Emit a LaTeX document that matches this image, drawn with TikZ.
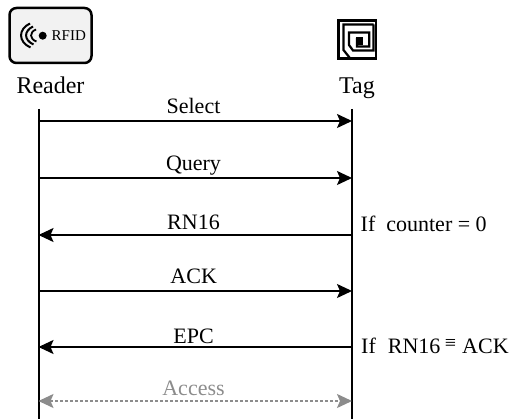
\documentclass[tikz,border=0pt]{standalone}
\usepackage{fontspec}
\setmainfont{Liberation Serif}
\usetikzlibrary{arrows.meta}
\definecolor{accgray}{gray}{0.55}
\tikzset{
  life/.style={line width=2pt},
  msg/.style={line width=1.7pt,-{Stealth[length=15pt,width=14pt,inset=3pt]}},
  acc/.style={line width=1.5pt,dash pattern=on 3pt off 2pt,color=accgray,{Stealth[length=15pt,width=14pt,inset=3pt]}-{Stealth[length=15pt,width=14pt,inset=3pt]}},
  lbl/.style={font=\fontsize{22}{24}\selectfont,inner sep=0pt,anchor=base},
  side/.style={font=\fontsize{22}{24}\selectfont,inner sep=0pt,anchor=base west},
  head/.style={font=\fontsize{24}{26}\selectfont,inner sep=0pt,anchor=base}
}
\begin{document}
\begin{tikzpicture}[x=1pt,y=-1pt]
\useasboundingbox (0,0) rectangle (511,419);
% reader icon
\draw[line width=2.5pt,rounded corners=7pt,fill=black!5] (9.5,8) rectangle (91.5,63);
\fill (42.7,35.7) circle (4);
\draw[line width=2pt] (30,23.5) .. controls (18,29) and (18,42) .. (30.5,47.5);
\draw[line width=2pt] (33,26.5) .. controls (23.7,31) and (23.7,40) .. (33.5,44.5);
\draw[line width=1.8pt] (36,29.5) .. controls (29.3,32) and (29.3,39) .. (36.5,41.5);
\node[inner sep=0pt,anchor=base west,font=\fontsize{15}{16}\selectfont] (rfid) at (51.5,41) {RFID};
% tag icon
\draw[line width=2.6pt] (338.3,20.3) rectangle (376,58.3);
\draw[line width=2.2pt] (373.5,24.5) -- (343.5,24.5) -- (343.5,50) -- (349.5,57.5);
\draw[line width=2.2pt] (373.5,24.5) -- (373.5,50.5) -- (353,50.5) -- (349,45) -- (349,32.5) -- (369.3,32.5) -- (369.3,46.5) -- (357,46.5) -- (357,38);
\fill (356,37.5) rectangle (363,45);
% headings
\node[head] (reader) at (50.5,93.5) {Reader};
\node[head] (tag) at (357,93.5) {Tag};
% lifelines
\coordinate (rtop) at (38.5,109); \coordinate (rbot) at (38.5,419);
\coordinate (ttop) at (352,109); \coordinate (tbot) at (352,419);
\draw[life] (rtop) -- (rbot);
\draw[life] (ttop) -- (tbot);
% messages
\foreach \n/\y in {a/121,b/178,c/235,d/291,e/347,f/401}{
  \coordinate (r\n) at (38.5,\y);
  \coordinate (t\n) at (352,\y);
}
\draw[msg] (ra) -- (ta);
\draw[msg] (rb) -- (tb);
\draw[msg] (tc) -- (rc);
\draw[msg] (rd) -- (td);
\draw[msg] (te) -- (re);
\draw[acc] (rf) -- (tf);
\node[lbl] (l1) at (193.5,113.5) {Select};
\node[lbl] (l2) at (193.5,171) {Query};
\node[lbl] (l3) at (193.5,229.5) {RN16};
\node[lbl] (l4) at (193.7,284) {ACK};
\node[lbl] (l5) at (193.5,343) {EPC};
\node[lbl,text=accgray] (l6) at (193.5,395) {Access};
% side notes
\node[side] (s1) at (360.5,232) {If\hspace{11pt}counter = 0};
\node[side] (s2) at (361,353) {If\hspace{12pt}RN16\hspace{4.5pt}\raisebox{4pt}{\fontsize{20}{20}\selectfont ≡}\hspace{6pt}ACK};
\end{tikzpicture}
\end{document}
